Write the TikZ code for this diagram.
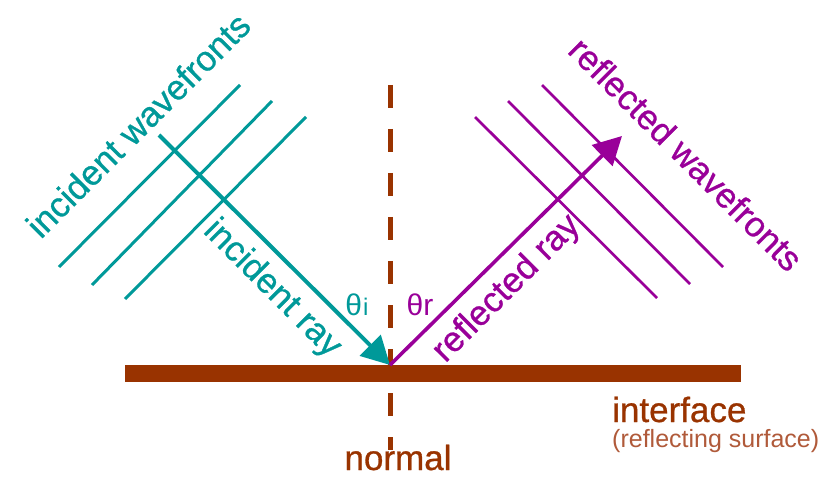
\documentclass[tikz,border=0pt]{standalone}
\usepackage{fontspec}
\setmainfont{Liberation Sans}
\newfontfamily\lblfont{Liberation Sans}[FakeBold=0.8]
\usepackage{tikz}
\usetikzlibrary{arrows.meta,positioning}
\definecolor{RayTeal}{HTML}{009999}
\definecolor{RayPurple}{HTML}{990099}
\definecolor{SurfBrown}{HTML}{993300}
\definecolor{SoftBrown}{HTML}{B05A3A}
\tikzset{
  raylbl/.style={font=\lblfont\fontsize{35}{40}\selectfont, inner sep=0pt},
  anglbl/.style={font=\fontsize{30}{34}\selectfont, inner sep=0pt},
  wavefront/.style={line width=3pt},
  rayarr/.style={line width=4pt, -{Triangle[length=28pt,width=29pt]}},
  normline/.style={SurfBrown, line width=5pt, dash pattern=on 23pt off 21pt},
  surface/.style={SurfBrown, line width=17pt}
}

\begin{document}
\begin{tikzpicture}[x=1pt, y=-1pt]
\useasboundingbox (0,0) rectangle (840,478);
% key points
\coordinate (hit) at (390,365);
\coordinate (src) at (159,135);
\coordinate (dst) at (622,136);
\coordinate (ntop) at (390,85);
\coordinate (nbot) at (390,450);
\coordinate (surfL) at (125,373.5);
\coordinate (surfR) at (741,373.5);
% normal and interface
\draw[normline] (ntop) -- (nbot);
\draw[surface] (surfL) -- (surfR);
% wavefronts
\foreach \a/\b/\c/\d in {59/267/240/85, 92/285/272/101, 125/299/306/117}
  \draw[wavefront, RayTeal] (\a,\b) -- (\c,\d);
\foreach \a/\b/\c/\d in {475/117/657/298, 508/101/690/284, 542/85/723/267}
  \draw[wavefront, RayPurple, line width=2.7pt] (\a,\b) -- (\c,\d);
% rays
\draw[rayarr, RayTeal] (src) -- (hit);
\draw[rayarr, RayPurple, line width=3.6pt] (hit) -- (dst);
% labels
\node[raylbl, RayTeal, rotate=45] (incwf) at (138,125) {incident wavefronts};
\node[raylbl, RayTeal, rotate=-45] (incray) at (272,289) {incident ray};
\node[raylbl, RayPurple, rotate=45] (refray) at (507,289) {reflected ray};
\node[raylbl, RayPurple, rotate=-45] (refwf) at (686,154) {reflected wavefronts};
\node[anglbl, RayTeal] (thi) at (357,305) {θ\kern1pt{\fontsize{24}{28}\selectfont i}};
\node[anglbl, RayPurple] (thr) at (420,305) {θr};
\node[raylbl, SurfBrown, anchor=base west] (iface) at (612,422) {interface};
\node[font=\fontsize{25}{30}\selectfont, SoftBrown, anchor=base west, inner sep=0pt] (refsurf) at (612,447) {(reflecting surface)};
\node[raylbl, SurfBrown, anchor=base] (nrm) at (398,470) {normal};
\end{tikzpicture}
\end{document}
